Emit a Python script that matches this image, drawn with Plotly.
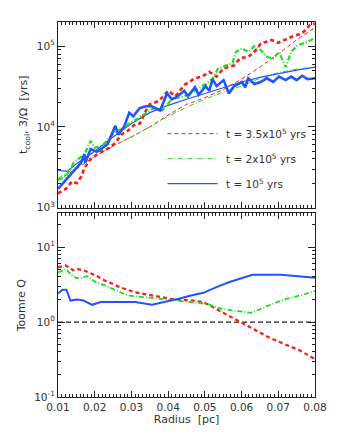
import plotly.graph_objects as go

# radius [pc] and t_cool [yrs]
r_cool_1e5 = [0.010, 0.0121, 0.0143, 0.0163, 0.0172, 0.0174, 0.0189, 0.0206, 0.0222, 0.0235,
              0.0256, 0.0264, 0.028, 0.0294, 0.0305, 0.0322, 0.0339, 0.0355, 0.0378, 0.0397,
              0.041, 0.042, 0.0444, 0.0454, 0.0473, 0.0483, 0.0502, 0.0512, 0.0521, 0.0532,
              0.0551, 0.0565, 0.058, 0.0601, 0.061, 0.0618, 0.0635, 0.0652, 0.0669, 0.0686,
              0.0702, 0.072, 0.0735, 0.075, 0.0765, 0.078, 0.080]
tcool_1e5 = [1.7e3, 2.2e3, 2.9e3, 3.6e3, 4.6e3, 3.6e3, 5.3e3, 4.9e3, 5.5e3, 6.1e3,
             1.03e4, 8e3, 1e4, 1.5e4, 1.35e4, 1.7e4, 1.8e4, 1.8e4, 1.6e4, 2.6e4,
             2.2e4, 2.3e4, 2.8e4, 2.4e4, 3.1e4, 2.5e4, 3.2e4, 2.8e4, 3.9e4, 3.2e4,
             3.8e4, 2.6e4, 3.2e4, 3.6e4, 3.1e4, 4e4, 3.4e4, 3.6e4, 4e4, 3.6e4,
             4.2e4, 3.8e4, 4.2e4, 3.8e4, 4.3e4, 3.9e4, 4e4]

r_cool_2e5 = [0.010, 0.0121, 0.0143, 0.0155, 0.0172, 0.0189, 0.020, 0.0222, 0.0243, 0.0256,
              0.0273, 0.0294, 0.0315, 0.034, 0.036, 0.0385, 0.041, 0.0444, 0.0473, 0.0502,
              0.0522, 0.0536, 0.056, 0.0575, 0.0585, 0.0601, 0.0618, 0.0635, 0.0652, 0.0669,
              0.0686, 0.0702, 0.072, 0.0735, 0.0753, 0.078, 0.080]
tcool_2e5 = [2.2e3, 2.4e3, 3.6e3, 4e3, 4.6e3, 6.7e3, 5.5e3, 5.9e3, 7.7e3, 8.8e3,
             9.3e3, 1.1e4, 1.25e4, 1.5e4, 1.7e4, 1.6e4, 2.2e4, 2.4e4, 2.8e4, 3.4e4,
             4e4, 5.3e4, 5.8e4, 6.2e4, 8.5e4, 9.4e4, 8.5e4, 1e5, 9e4, 7.4e4,
             7e4, 8.5e4, 5.5e4, 8.5e4, 1.03e5, 1.13e5, 1.26e5]

r_cool_35e5 = [0.010, 0.0121, 0.0138, 0.0151, 0.0163, 0.0172, 0.0189, 0.0214, 0.024, 0.0256,
               0.0273, 0.029, 0.0307, 0.0323, 0.034, 0.035, 0.0375, 0.040, 0.042, 0.0444,
               0.0473, 0.0492, 0.0512, 0.0532, 0.0551, 0.058, 0.0596, 0.0619, 0.0644, 0.0652,
               0.0682, 0.070, 0.0735, 0.0765, 0.0775, 0.0784, 0.080]
tcool_35e5 = [1.5e3, 1.7e3, 2.1e3, 2.0e3, 2.4e3, 3.1e3, 4e3, 4.8e3, 5.5e3, 6.3e3,
              8.1e3, 8.9e3, 1.05e4, 1.1e4, 1.6e4, 1.9e4, 2.1e4, 2.8e4, 2.4e4, 3.3e4,
              4e4, 4.2e4, 4.8e4, 4.2e4, 5.3e4, 5.8e4, 7.1e4, 7.4e4, 9.4e4, 1.08e5,
              1.19e5, 1.1e5, 1.3e5, 1.45e5, 1.6e5, 1.8e5, 1.9e5]

# 3/Omega [yrs] (thin curves)
r_omega = [0.010, 0.0125, 0.015, 0.020, 0.025, 0.030, 0.035, 0.040, 0.045, 0.050,
           0.055, 0.060, 0.065, 0.070, 0.075, 0.080]
omega_1e5 = [2.9e3, 2.8e3, 3.5e3, 5e3, 7.5e3, 1.1e4, 1.5e4, 1.85e4, 2.2e4, 2.6e4,
             3.1e4, 3.6e4, 4.1e4, 4.6e4, 5.05e4, 5.5e4]
omega_2e5 = [2.3e3, 2.7e3, 3.1e3, 4.3e3, 5.8e3, 7.5e3, 1.0e4, 1.35e4, 1.75e4, 2.2e4,
             2.7e4, 3.2e4, 4e4, 4.7e4, 5.2e4, 5.5e4]
omega_35e5 = [2.2e3, 2.6e3, 3.0e3, 4.3e3, 5.8e3, 7.5e3, 1.0e4, 1.4e4, 1.9e4, 2.3e4,
              2.9e4, 3.9e4, 5.5e4, 8e4, 1.2e5, 1.7e5]

# Toomre Q (lower panel)
r_q_1e5 = [0.010, 0.0112, 0.0123, 0.0134, 0.0152, 0.017, 0.0193, 0.0216, 0.027, 0.031,
           0.0356, 0.0405, 0.0429, 0.0462, 0.0496, 0.053, 0.0565, 0.063, 0.0707, 0.080]
q_1e5 = [2.4, 2.7, 2.7, 1.94, 2.0, 1.94, 1.7, 1.85, 1.85, 1.85,
         1.7, 1.9, 2.05, 2.26, 2.46, 2.9, 3.4, 4.27, 4.3, 3.9]
r_q_2e5 = [0.010, 0.0121, 0.0142, 0.016, 0.0178, 0.0203, 0.0227, 0.027, 0.029, 0.0356,
           0.0405, 0.0462, 0.0505, 0.0547, 0.059, 0.0627, 0.0673, 0.0716, 0.0758, 0.080]
q_2e5 = [4.6, 5.1, 4.0, 3.8, 4.1, 3.4, 3.1, 2.5, 2.26, 2.1,
         1.96, 1.85, 1.75, 1.5, 1.4, 1.33, 1.66, 2.0, 2.26, 2.6]
r_q_35e5 = [0.010, 0.0121, 0.0142, 0.0154, 0.017, 0.0203, 0.0227, 0.027, 0.031, 0.0356,
            0.0405, 0.0429, 0.0462, 0.0496, 0.0522, 0.0547, 0.0597, 0.0631, 0.0673, 0.0716,
            0.0758, 0.080]
q_35e5 = [5.4, 5.7, 4.9, 5.1, 4.9, 4.2, 3.6, 2.9, 2.5, 2.26,
          2.05, 2.0, 1.95, 1.85, 1.58, 1.36, 1.0, 0.81, 0.63, 0.51,
          0.42, 0.32]

legend_labels = ["t\u00a0=\u00a03.5x10<sup>5</sup> yrs", "t\u00a0=\u00a02x10<sup>5</sup> yrs",
                 "t\u00a0=\u00a010<sup>5</sup> yrs"]

RED, GREEN, BLUE = "#ff1a1a", "#1fdc1f", "#1f55ff"
FONT = "DejaVu Sans"
INK = "#333333"

fig = go.Figure()

# upper panel: thin 3/Omega curves
fig.add_trace(go.Scatter(x=r_omega, y=omega_35e5, mode="lines", xaxis="x", yaxis="y",
                         line=dict(color=RED, width=1, dash="4px,3px")))
fig.add_trace(go.Scatter(x=r_omega, y=omega_2e5, mode="lines", xaxis="x", yaxis="y",
                         line=dict(color=GREEN, width=1, dash="5px,2px,1px,2px")))
fig.add_trace(go.Scatter(x=r_omega, y=omega_1e5, mode="lines", xaxis="x", yaxis="y",
                         line=dict(color=BLUE, width=1.2)))
# upper panel: thick t_cool curves
fig.add_trace(go.Scatter(x=r_cool_35e5, y=tcool_35e5, mode="lines", xaxis="x", yaxis="y",
                         line=dict(color=RED, width=2.6, dash="4px,3px")))
fig.add_trace(go.Scatter(x=r_cool_2e5, y=tcool_2e5, mode="lines", xaxis="x", yaxis="y",
                         line=dict(color=GREEN, width=2.2, dash="5px,2px,1px,2px")))
fig.add_trace(go.Scatter(x=r_cool_1e5, y=tcool_1e5, mode="lines", xaxis="x", yaxis="y",
                         line=dict(color=BLUE, width=2.6)))

# lower panel
fig.add_trace(go.Scatter(x=[0.01, 0.08], y=[1, 1], mode="lines", xaxis="x2", yaxis="y2",
                         line=dict(color="#222222", width=1.2, dash="5px,3px")))
fig.add_trace(go.Scatter(x=r_q_35e5, y=q_35e5, mode="lines", xaxis="x2", yaxis="y2",
                         line=dict(color=RED, width=2.2, dash="4px,3px")))
fig.add_trace(go.Scatter(x=r_q_2e5, y=q_2e5, mode="lines", xaxis="x2", yaxis="y2",
                         line=dict(color=GREEN, width=1.8, dash="5px,2px,1px,2px")))
fig.add_trace(go.Scatter(x=r_q_1e5, y=q_1e5, mode="lines", xaxis="x2", yaxis="y2",
                         line=dict(color=BLUE, width=2.0)))

# hand-drawn legend inside the upper panel
leg_styles = [dict(color=RED, width=1, dash="4px,3px"),
              dict(color=GREEN, width=1, dash="5px,2px,1px,2px"),
              dict(color=BLUE, width=1.2)]
leg_y = [0.398, 0.263, 0.129]
for lab, sty, yy in zip(legend_labels, leg_styles, leg_y):
    fig.add_shape(type="line", xref="x domain", yref="y domain", x0=0.426, x1=0.621,
                  y0=yy, y1=yy, line=sty)
    fig.add_annotation(xref="x domain", yref="y domain", x=0.645, y=yy, text=lab,
                       showarrow=False, xanchor="left", yanchor="middle",
                       font=dict(family=FONT, size=10.5, color=INK))

axis_common = dict(showline=True, linecolor="#222222", linewidth=1, mirror="ticks",
                   ticks="inside", tickcolor="#222222", showgrid=False, zeroline=False,
                   tickfont=dict(family=FONT, size=10.5, color=INK))
top_minor = [m * 10 ** e for e in (3, 4, 5) for m in range(2, 10)]
bot_minor = [m * 10 ** e for e in (-1, 0, 1) for m in range(2, 10)]
x_minor = dict(dtick=0.001, ticks="inside", ticklen=3, tickcolor="#222222")

# the page body adds an 8px margin, so the figure is sized to sit inside the window
fig.update_layout(
    width=331, height=426,
    margin=dict(l=42, r=12, t=14, b=36),
    paper_bgcolor="white", plot_bgcolor="white",
    showlegend=False,
    font=dict(family=FONT, size=11, color=INK),
    xaxis=dict(domain=[0, 1], range=[0.01, 0.08], anchor="y", dtick=0.01, ticklen=6,
               showticklabels=False, minor=x_minor, **axis_common),
    yaxis=dict(domain=[0.5053, 1.0], type="log", range=[3, 5.3], anchor="x", ticklen=7,
               tickvals=[1e3, 1e4, 1e5],
               ticktext=["10<sup>3</sup>", "10<sup>4</sup>", "10<sup>5</sup>"],
               minor=dict(tickvals=top_minor, ticks="inside", ticklen=3,
                          tickcolor="#222222", showgrid=False),
               title=dict(text="t<sub>cool</sub>, 3/Ω  [yrs]", standoff=6,
                          font=dict(family=FONT, size=11, color=INK)),
               **axis_common),
    xaxis2=dict(domain=[0, 1], range=[0.01, 0.08], anchor="y2", dtick=0.01, ticklen=6,
                tickformat=".2f", minor=x_minor,
                title=dict(text="Radius  [pc]", standoff=2,
                           font=dict(family=FONT, size=11, color=INK)),
                **axis_common),
    yaxis2=dict(domain=[0, 0.4894], type="log", range=[-1, 1.45], anchor="x2", ticklen=7,
                tickvals=[0.1, 1, 10],
                ticktext=["10<sup>-1</sup>", "10<sup>0</sup>", "10<sup>1</sup>"],
                minor=dict(tickvals=bot_minor, ticks="inside", ticklen=3,
                           tickcolor="#222222", showgrid=False),
                title=dict(text="Toomre Q", standoff=6,
                           font=dict(family=FONT, size=11, color=INK)),
                **axis_common),
)

fig.write_html("out.html")
